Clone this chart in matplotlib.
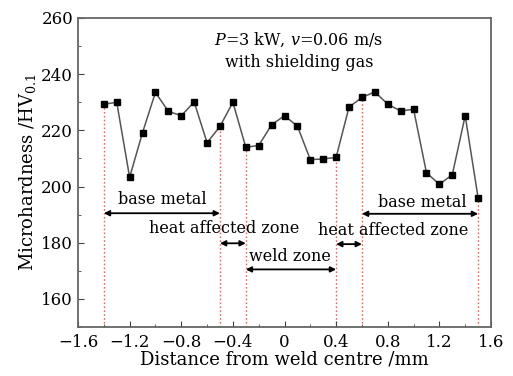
import matplotlib
matplotlib.use("Agg")
import matplotlib.pyplot as plt
from matplotlib.ticker import MultipleLocator
import numpy as np

distance = [-1.4, -1.3, -1.2, -1.1, -1.0, -0.9, -0.8, -0.7, -0.6, -0.5,
            -0.4, -0.3, -0.2, -0.1, 0.0, 0.1, 0.2, 0.3, 0.4, 0.5,
            0.6, 0.7, 0.8, 0.9, 1.0, 1.1, 1.2, 1.3, 1.4, 1.5]
hardness = [229.3, 230.0, 203.3, 219.2, 233.5, 226.8, 225.2, 230.1, 215.6, 221.4,
            230.0, 214.0, 214.6, 222.0, 225.2, 221.5, 209.6, 209.8, 210.4, 228.3,
            231.7, 233.7, 229.3, 226.9, 227.5, 204.9, 200.8, 204.2, 225.2, 196.0]
boundaries = [-1.4, -0.5, -0.3, 0.4, 0.6, 1.5]
zone_labels = ["base metal", "heat affected zone", "weld zone", "heat affected zone", "base metal"]

plt.rcParams['font.family'] = ['DejaVu Serif']
plt.rcParams['mathtext.fontset'] = 'dejavuserif'
fig = plt.figure(figsize=(5.13, 3.76), dpi=100)
ax = fig.add_axes([78/513, 1-327/376, (491-78)/513, (327-18)/376])

ax.set_xlim(-1.6, 1.6)
ax.set_ylim(150, 260)

# red dotted boundary lines
hmap = dict(zip(distance, hardness))
for b in boundaries:
    ax.plot([b, b], [150, hmap[b]], color='#f0604f', ls=(0, (1.2, 1.6)), lw=1.0, zorder=1)

ax.plot(distance, hardness, color='#555555', lw=1.1, marker='s', ms=5,
        mfc='black', mec='black', zorder=3)

# arrows and labels
arrow_y = [190.5, 179.8, 170.5, 179.5, 190.3]
text_pos = [(-0.95, 195.3), (-0.47, 185.1), (0.04, 175.0), (0.84, 184.3), (1.065, 194.2)]
for i, lab in enumerate(zone_labels):
    x0, x1 = boundaries[i], boundaries[i+1]
    ax.annotate('', xy=(x0, arrow_y[i]), xytext=(x1, arrow_y[i]),
                arrowprops=dict(arrowstyle='<|-|>', color='black', lw=1.3,
                                mutation_scale=8, shrinkA=0, shrinkB=0))
    ax.text(text_pos[i][0], text_pos[i][1], lab, ha='center', va='center', fontsize=11.5)

ax.text(0.11, 252.4, r'$\it{P}$=3 kW, $\it{v}$=0.06 m/s', ha='center', va='center', fontsize=11.5)
ax.text(0.115, 244.0, 'with shielding gas', ha='center', va='center', fontsize=11.5)

ax.xaxis.set_minor_locator(MultipleLocator(0.2))
ax.yaxis.set_minor_locator(MultipleLocator(10))
ax.set_yticks([160, 180, 200, 220, 240, 260])
ax.set_xticks([-1.6, -1.2, -0.8, -0.4, 0, 0.4, 0.8, 1.2, 1.6])
ax.set_xticklabels(['\u22121.6', '\u22121.2', '\u22120.8', '\u22120.4', '0', '0.4', '0.8', '1.2', '1.6'])
ax.tick_params(which='both', direction='in', top=False, right=False, labelsize=12, color='#444444')
ax.tick_params(axis='x', which='major', pad=5)
ax.tick_params(which='major', length=4)
ax.tick_params(which='minor', length=2)
for s in ax.spines.values():
    s.set_color('#666666')
    s.set_linewidth(1.3)

ax.set_xlabel('Distance from weld centre /mm', fontsize=13, labelpad=0)
ax.set_ylabel(r'Microhardness /HV$_{0.1}$', fontsize=13, labelpad=2)

fig.savefig('out.png', dpi=100)
